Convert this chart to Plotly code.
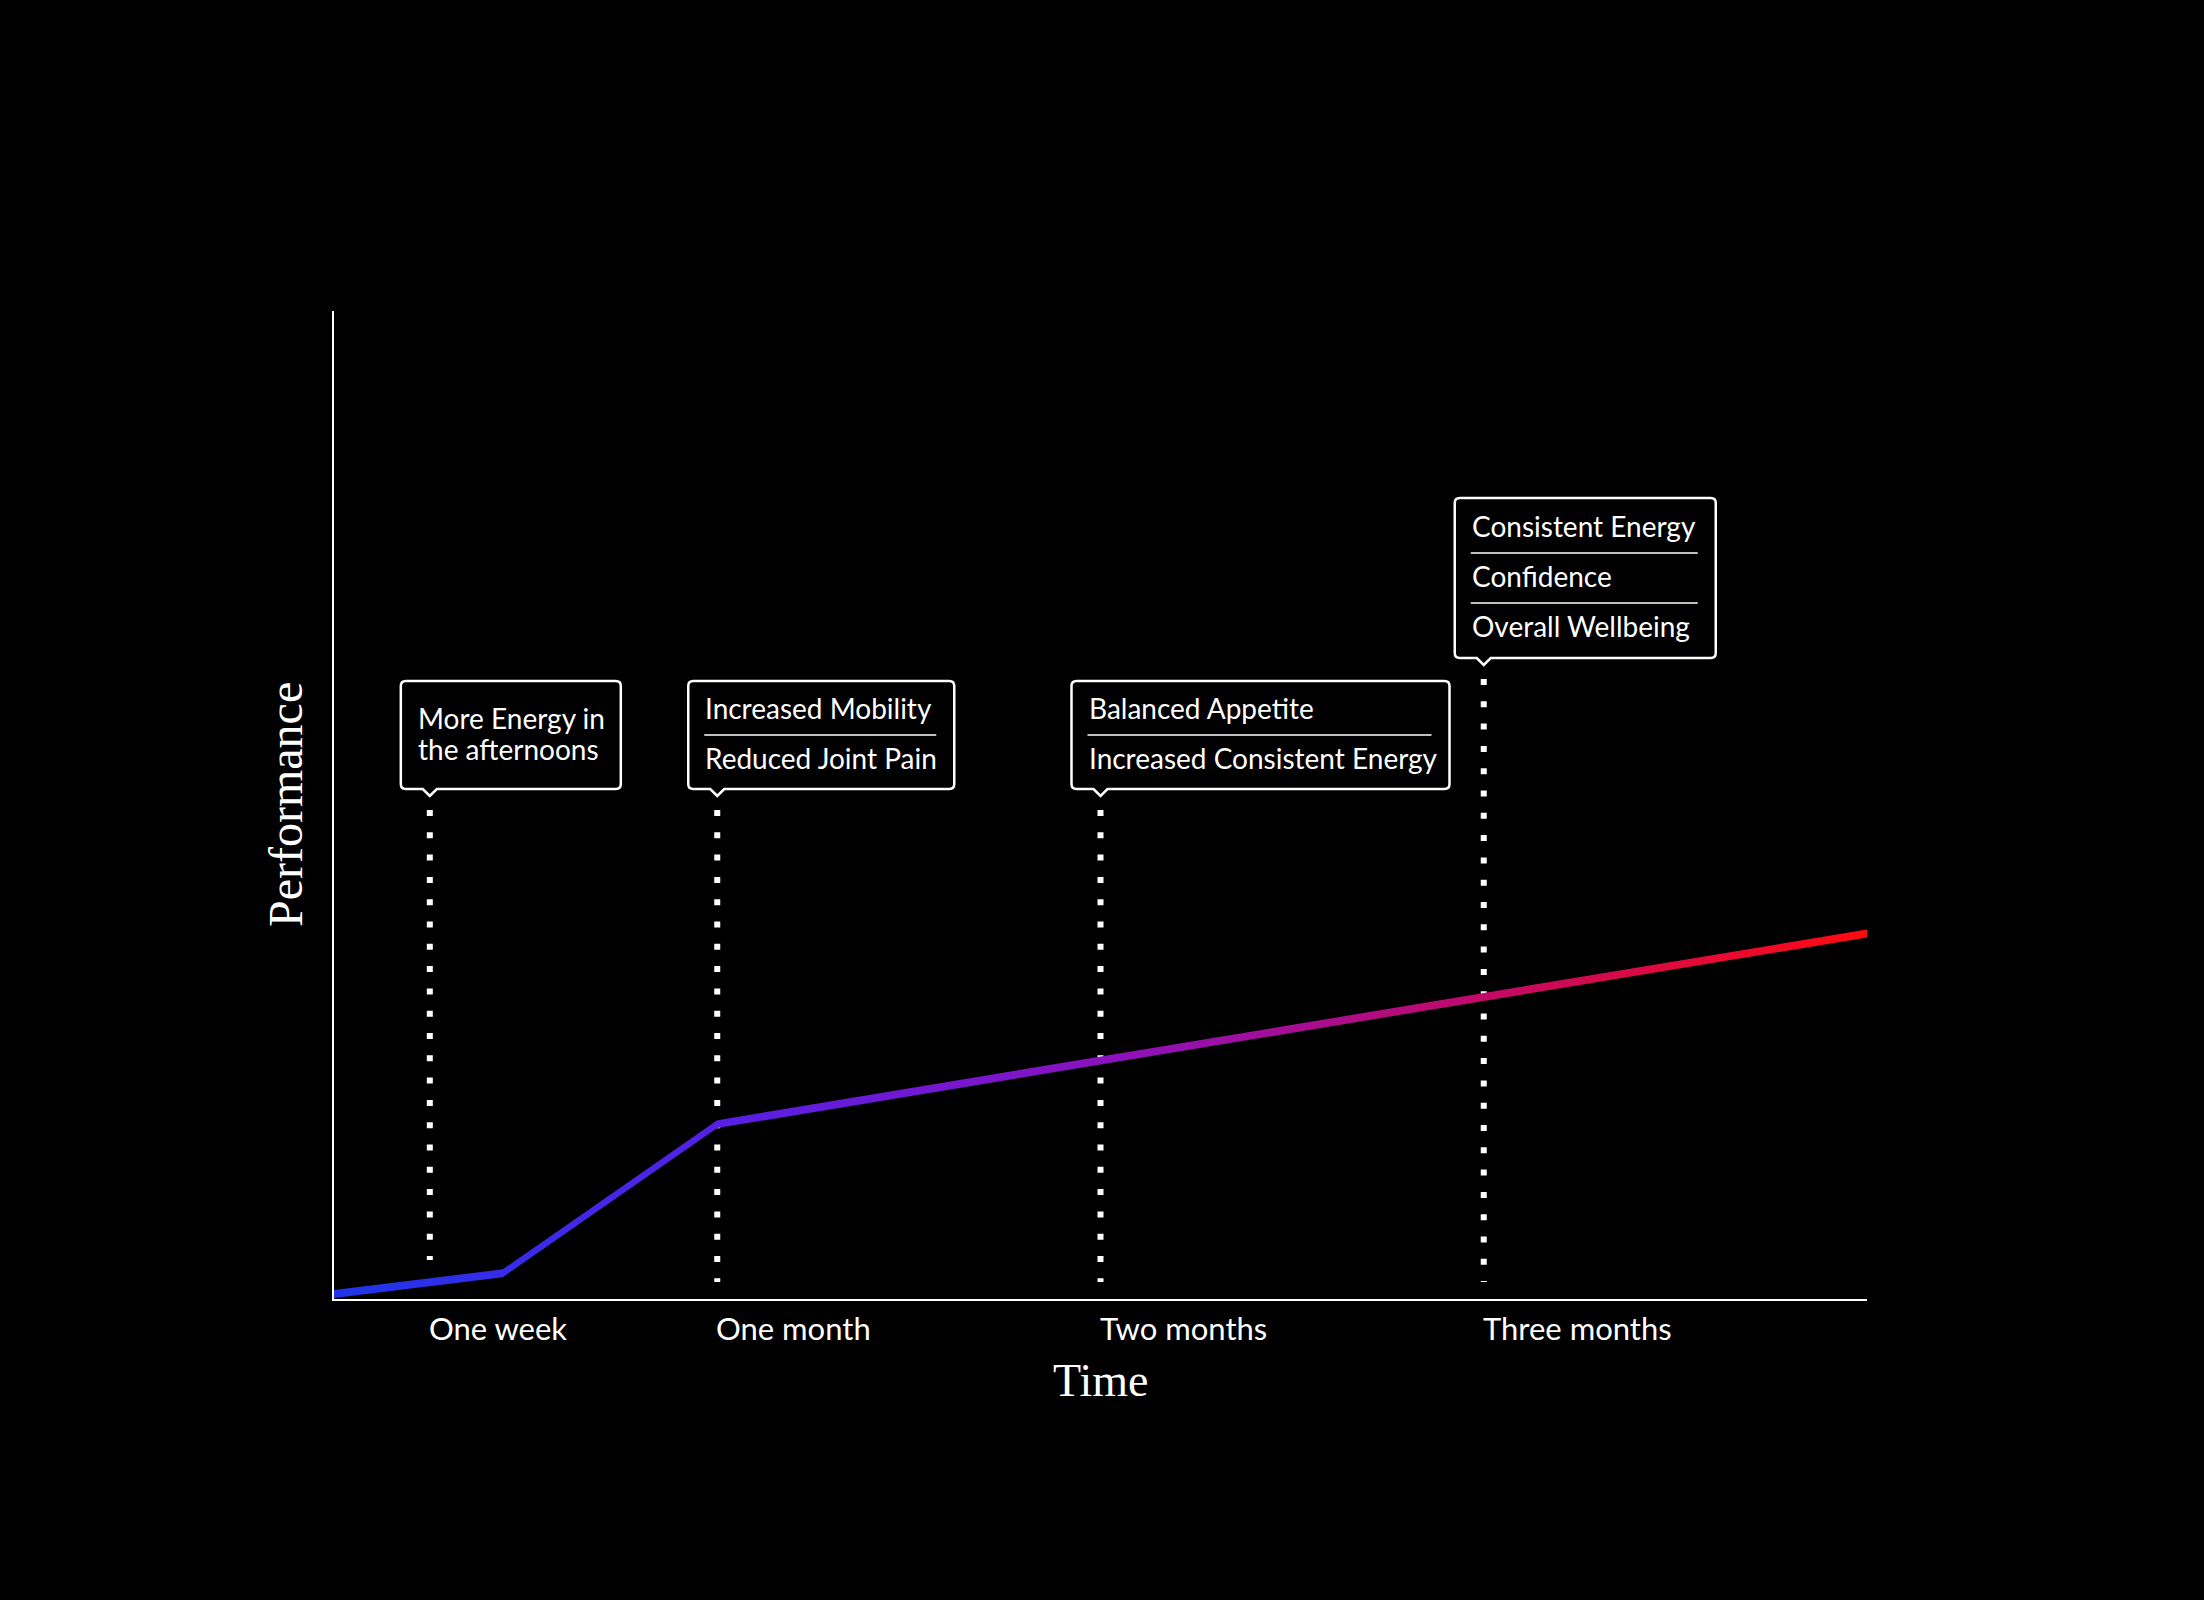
import plotly.graph_objects as go

# performance curve (x in months, y on a 0-100 scale)
months = [0.0, 0.44, 1.0, 4.0]
performance = [0.5, 2.6, 17.7, 37.0]

# milestones along the time axis
milestone_x = [0.25, 1.0, 2.0, 3.0]
milestone_labels = ["One week", "One month", "Two months", "Three months"]
milestone_notes = [
    ["More Energy in", "the afternoons"],
    ["Increased Mobility", "Reduced Joint Pain"],
    ["Balanced Appetite", "Increased Consistent Energy"],
    ["Consistent Energy", "Confidence", "Overall Wellbeing"],
]

# callout box styling (pixels, relative to milestone on the x axis)
box_width = [220, 266, 378, 261]
box_bottom = [510, 510, 510, 641]
box_height = [108, 108, 108, 160]
line_pitch = [31, 50, 50, 50]
separators = [False, True, True, True]
dots_end = [39, 17, 17, 17]

SANS = "Lato, 'Open Sans', sans-serif"
SERIF = "'Liberation Serif', 'DejaVu Serif', serif"
grad = [[0.0, "#1e35e8"], [0.25, "#5620e6"], [0.5, "#8a12bf"],
        [0.75, "#c20a68"], [1.0, "#ff0a10"]]

# the curve is drawn as a thin band so it can carry a horizontal gradient
half = 0.4
band_x = months + months[::-1]
band_y = [v + half for v in performance] + [v - half for v in performance[::-1]]

fig = go.Figure()
fig.add_trace(go.Scatter(
    x=band_x, y=band_y, mode="lines", fill="toself",
    fillgradient=dict(type="horizontal", colorscale=grad),
    line=dict(width=0), hoverinfo="skip",
))


def box_path(left, right, bottom, top, r=5, notch=7):
    return (f"M{left + r},{top} L{right - r},{top} Q{right},{top} {right},{top - r} "
            f"L{right},{bottom + r} Q{right},{bottom} {right - r},{bottom} "
            f"L{notch},{bottom} L0,{bottom - notch} L{-notch},{bottom} "
            f"L{left + r},{bottom} Q{left},{bottom} {left},{bottom + r} "
            f"L{left},{top - r} Q{left},{top} {left + r},{top} Z")


shapes = []
annotations = []
for i, m in enumerate(milestone_x):
    left = -29
    right = left + box_width[i]
    bottom = box_bottom[i]
    top = bottom + box_height[i]
    center = (bottom + top) / 2

    # dotted guide
    shapes.append(dict(type="line", layer="below", xref="x", yref="y",
                       xsizemode="pixel", xanchor=m, x0=0, x1=0,
                       ysizemode="pixel", yanchor=0, y0=bottom - 21, y1=dots_end[i],
                       line=dict(color="white", width=6, dash="6px,16.3px")))
    # callout box
    shapes.append(dict(type="path", layer="above", xref="x", yref="y",
                       xsizemode="pixel", xanchor=m, ysizemode="pixel", yanchor=0,
                       path=box_path(left, right, bottom, top),
                       fillcolor="black", line=dict(color="white", width=2.5)))

    notes = milestone_notes[i]
    n = len(notes)
    for j, note in enumerate(notes):
        yoff = center + line_pitch[i] * ((n - 1) / 2 - j)
        annotations.append(dict(x=m, y=0, xref="x", yref="y", xshift=left + 15,
                                yshift=yoff + 2, text=note, showarrow=False,
                                xanchor="left", yanchor="middle",
                                font=dict(family=SANS, size=28, color="white")))
        if separators[i] and j < n - 1:
            sy = yoff - line_pitch[i] / 2
            shapes.append(dict(type="line", layer="above", xref="x", yref="y",
                               xsizemode="pixel", xanchor=m, x0=left + 16, x1=right - 18,
                               ysizemode="pixel", yanchor=0, y0=sy, y1=sy,
                               line=dict(color="white", width=1.5)))

    # time label
    annotations.append(dict(x=m, y=0, xref="x", yref="paper", yshift=-29, xshift=-3,
                            text=milestone_labels[i], showarrow=False,
                            xanchor="left", yanchor="middle",
                            font=dict(family=SANS, size=31, color="white")))

annotations.append(dict(x=0.5, y=0, xref="paper", yref="paper", yshift=-81,
                        text="Time", showarrow=False, xanchor="center", yanchor="middle",
                        font=dict(family=SERIF, size=46, color="white")))
annotations.append(dict(x=0, y=0.5, xref="paper", yref="paper", xshift=-49,
                        text="Performance", textangle=-90, showarrow=False,
                        xanchor="center", yanchor="middle",
                        font=dict(family=SERIF, size=48, color="white")))

axis_style = dict(showline=True, linecolor="white", linewidth=2, showgrid=False,
                  zeroline=False, showticklabels=False, ticks="", fixedrange=True)

fig.update_layout(
    width=2204, height=1600,
    margin=dict(l=334, r=337, t=311, b=301),
    paper_bgcolor="black", plot_bgcolor="black",
    showlegend=False,
    xaxis=dict(range=[0, 4], **axis_style),
    yaxis=dict(range=[0, 100], **axis_style),
    shapes=shapes,
    annotations=annotations,
)

# no white page margin around the figure
fig.write_html("out.html", config={"displayModeBar": False},
               post_script="document.body.style.margin='0';"
                           "document.body.style.background='black';")
